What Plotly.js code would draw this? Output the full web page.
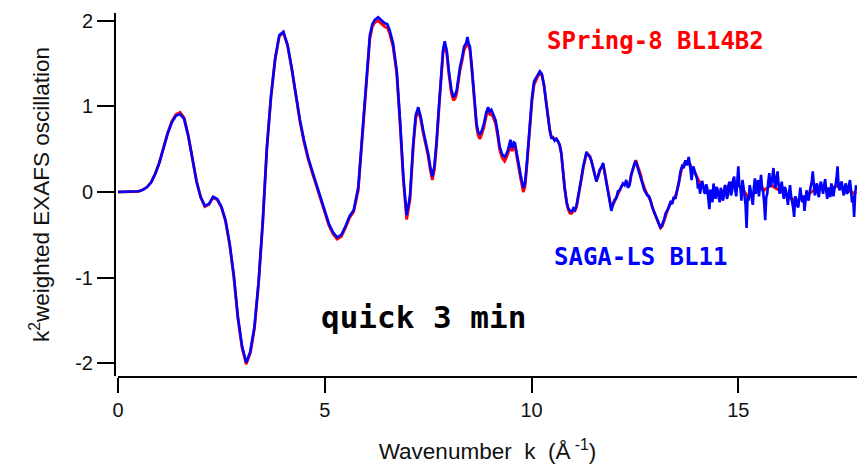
<!DOCTYPE html>
<html>
<head>
<meta charset="utf-8">
<script src="https://cdn.plot.ly/plotly-3.0.1.min.js"></script>
<style>html,body{margin:0;padding:0;background:#fff;}#chart{width:857px;height:464px;}</style>
</head>
<body>
<div id="chart"></div>
<script>
// Wavenumber k (1/Å)
const k = [
0.0,0.1,0.2,0.3,0.4,0.5,0.6,0.7,0.8,0.9,
1.0,1.1,1.2,1.3,1.4,1.5,1.6,1.7,1.8,1.9,
2.0,2.1,2.2,2.3,2.4,2.5,2.6,2.7,2.8,2.9,
3.0,3.1,3.2,3.3,3.4,3.5,3.6,3.7,3.8,3.9,
4.0,4.1,4.2,4.3,4.4,4.5,4.6,4.7,4.8,4.9,
5.0,5.1,5.2,5.3,5.4,5.5,5.6,5.7,
5.81,5.89,5.95,6.01,6.09,6.15,6.21,6.29,6.37,6.45,6.51,6.57,6.65,6.74,6.82,6.90,6.98,
7.06,7.14,7.20,7.26,7.32,7.38,7.44,7.50,7.55,7.60,7.65,7.70,7.76,7.81,7.86,7.90,7.95,
8.00,8.06,8.11,8.15,8.19,8.23,8.27,8.32,8.37,8.42,8.45,8.48,8.51,8.55,8.59,8.63,8.67,8.71,8.75,8.80,8.85,8.90,8.95,8.99,
9.03,9.08,9.13,9.18,9.23,9.29,9.35,9.39,9.43,9.49,9.52,9.54,9.57,9.60,9.64,9.68,9.74,9.80,9.84,9.88,9.92,9.96,
10.01,10.06,10.10,10.15,10.20,10.25,10.30,10.36,10.40,10.44,10.48,10.52,10.56,10.60,10.64,10.68,10.72,10.76,10.80,10.85,10.89,10.93,10.97,
11.01,11.05,11.09,11.13,11.17,11.21,11.25,11.29,11.33,11.37,11.41,11.45,11.49,11.53,11.57,11.61,11.65,11.69,11.73,11.77,11.81,11.85,11.89,11.93,11.97,
12.01,12.05,12.09,12.13,12.17,12.21,12.25,12.29,12.33,12.37,12.41,12.45,12.49,12.52,12.56,12.60,12.64,12.68,12.72,12.76,12.80,12.84,12.88,12.92,12.96,
13.00,13.04,13.08,13.12,13.16,13.20,13.24,13.28,13.32,13.36,13.40,13.44,13.48,13.52,13.56,13.60,13.64,13.68,13.72,13.76,13.80,13.84,13.87,13.91,13.95,
14.000,14.025,14.050,14.075,14.100,14.125,14.150,14.175,14.200,14.225,14.250,14.275,14.300,14.325,14.350,14.375,14.400,14.425,14.450,14.475,
14.500,14.525,14.550,14.575,14.600,14.625,14.650,14.675,14.700,14.725,14.750,14.775,14.800,14.825,14.850,14.875,14.900,14.925,14.950,14.975,
15.000,15.025,15.050,15.075,15.100,15.125,15.150,15.175,15.200,15.225,15.250,15.275,15.300,15.325,15.350,15.375,15.400,15.425,15.450,15.475,
15.500,15.525,15.550,15.575,15.600,15.625,15.650,15.675,15.700,15.725,15.750,15.775,15.800,15.825,15.850,15.875,15.900,15.925,15.950,15.975,
16.000,16.025,16.050,16.075,16.100,16.125,16.150,16.175,16.200,16.225,16.250,16.275,16.300,16.325,16.350,16.375,16.400,16.425,16.450,16.475,
16.500,16.525,16.550,16.575,16.600,16.625,16.650,16.675,16.700,16.725,16.750,16.775,16.800,16.825,16.850,16.875,16.900,16.925,16.950,16.975,
17.000,17.025,17.050,17.075,17.100,17.125,17.150,17.175,17.200,17.225,17.250,17.275,17.300,17.325,17.350,17.375,17.400,17.425,17.450,17.475,
17.500,17.525,17.550,17.575,17.600,17.625,17.650,17.675,17.700,17.725,17.750,17.775,17.800,17.825,17.850
];

// SPring-8 BL14B2 (red)
const spring8 = [
0.000,0.000,0.000,0.000,0.002,0.008,0.026,0.058,0.115,0.215,
0.345,0.515,0.690,0.825,0.905,0.930,0.865,0.660,0.390,0.125,
-0.065,-0.170,-0.145,-0.065,-0.090,-0.180,-0.340,-0.620,-0.990,-1.480,
-1.820,-2.010,-1.880,-1.590,-1.060,-0.360,0.510,1.110,1.550,1.820,
1.860,1.710,1.440,1.100,0.820,0.580,0.380,0.220,0.070,-0.080,
-0.230,-0.390,-0.490,-0.550,-0.520,-0.420,-0.300,-0.230,
0.020,0.530,0.910,1.310,1.790,1.930,1.980,2.000,1.960,1.930,1.920,1.850,1.700,1.380,0.800,0.140,-0.320,
-0.090,0.530,0.860,0.960,0.850,0.690,0.570,0.420,0.260,0.140,0.260,0.530,0.960,1.310,1.620,1.730,1.620,
1.380,1.160,1.070,1.090,1.150,1.290,1.420,1.530,1.660,1.710,1.770,1.700,1.660,1.460,1.230,0.980,0.760,0.660,0.620,0.680,0.760,0.880,0.950,0.910,
0.920,0.860,0.800,0.660,0.490,0.400,0.360,0.400,0.450,0.570,0.490,0.490,0.540,0.530,0.410,0.300,0.150,0.000,0.060,0.260,0.540,0.800,
1.060,1.250,1.300,1.350,1.380,1.360,1.250,1.030,0.850,0.730,0.640,0.640,0.610,0.620,0.590,0.550,0.450,0.230,0.050,-0.130,-0.210,-0.250,-0.250,
-0.220,-0.220,-0.170,-0.070,0.040,0.160,0.280,0.370,0.450,0.440,0.420,0.360,0.270,0.200,0.140,0.180,0.250,0.290,0.320,0.230,0.110,0.020,-0.090,-0.190,-0.150,
-0.100,-0.070,-0.010,0.020,0.060,0.090,0.100,0.110,0.080,0.100,0.200,0.280,0.330,0.370,0.320,0.260,0.200,0.120,0.050,0.010,-0.030,-0.060,-0.110,-0.180,-0.230,
-0.280,-0.330,-0.380,-0.420,-0.400,-0.340,-0.270,-0.220,-0.170,-0.130,-0.120,-0.070,-0.050,0.020,0.110,0.220,0.290,0.320,0.350,0.340,0.350,0.320,0.270,0.260,0.220,
0.170,0.140,0.120,0.090,0.080,0.070,0.050,0.040,0.020,0.030,0.000,-0.020,-0.040,-0.030,-0.050,-0.060,-0.030,-0.020,-0.040,-0.030,
-0.020,-0.040,-0.030,0.000,0.000,0.010,0.020,0.050,0.040,0.050,0.060,0.090,0.080,0.080,0.100,0.130,0.120,0.110,0.100,0.110,
0.080,0.070,0.060,0.040,0.030,0.020,0.000,-0.020,-0.040,-0.050,-0.060,-0.040,-0.050,-0.040,-0.030,-0.010,0.000,0.010,0.020,0.040,
0.030,0.040,0.050,0.050,0.040,0.020,0.030,0.040,0.050,0.060,0.070,0.070,0.080,0.070,0.060,0.060,0.050,0.040,0.030,0.030,
0.020,0.010,0.000,-0.010,-0.020,-0.030,-0.040,-0.050,-0.060,-0.060,-0.070,-0.080,-0.080,-0.090,-0.090,-0.100,-0.100,-0.100,-0.090,-0.080,
-0.080,-0.080,-0.080,-0.070,-0.060,-0.050,-0.040,-0.030,-0.020,-0.010,0.000,0.010,0.020,0.030,0.030,0.030,0.030,0.020,0.020,0.030,
0.030,0.040,0.040,0.050,0.050,0.040,0.040,0.030,0.030,0.040,0.040,0.050,0.050,0.060,0.060,0.070,0.070,0.060,0.060,0.050,
0.050,0.040,0.040,0.030,0.030,0.020,0.020,0.010,0.010,0.000,0.000,-0.010,-0.020,-0.010,0.000
];

// SAGA-LS BL11 (blue)
const sagaLS = [
0.000,0.000,0.000,0.000,0.002,0.008,0.025,0.055,0.110,0.210,
0.340,0.510,0.680,0.810,0.890,0.910,0.850,0.650,0.380,0.120,
-0.060,-0.160,-0.140,-0.055,-0.080,-0.170,-0.330,-0.600,-0.970,-1.460,
-1.800,-1.990,-1.860,-1.570,-1.050,-0.350,0.520,1.120,1.560,1.830,
1.870,1.720,1.450,1.120,0.840,0.600,0.400,0.240,0.090,-0.060,
-0.210,-0.370,-0.470,-0.530,-0.500,-0.400,-0.280,-0.210,
0.060,0.570,0.950,1.350,1.830,1.960,2.010,2.040,2.000,1.970,1.960,1.890,1.740,1.420,0.840,0.180,-0.270,
-0.050,0.570,0.900,0.990,0.880,0.720,0.600,0.450,0.300,0.180,0.300,0.570,1.000,1.350,1.660,1.760,1.650,
1.420,1.200,1.110,1.130,1.190,1.330,1.460,1.570,1.700,1.740,1.810,1.730,1.700,1.500,1.270,1.020,0.800,0.700,0.670,0.720,0.800,0.920,0.990,0.940,
0.960,0.900,0.840,0.700,0.530,0.440,0.410,0.440,0.490,0.610,0.520,0.530,0.580,0.570,0.450,0.340,0.190,0.050,0.100,0.300,0.580,0.840,
1.100,1.290,1.330,1.380,1.410,1.380,1.250,1.020,0.840,0.720,0.630,0.630,0.600,0.620,0.590,0.550,0.450,0.220,0.050,-0.120,-0.190,-0.220,-0.230,
-0.190,-0.210,-0.150,-0.050,0.060,0.180,0.300,0.380,0.470,0.430,0.410,0.360,0.260,0.200,0.120,0.190,0.260,0.290,0.340,0.220,0.100,0.020,-0.100,-0.220,-0.140,
-0.090,-0.070,0.010,0.020,0.070,0.100,0.080,0.140,0.050,0.080,0.200,0.280,0.330,0.360,0.300,0.240,0.180,0.100,0.030,0.000,-0.040,-0.050,-0.100,-0.180,-0.220,
-0.260,-0.320,-0.370,-0.420,-0.380,-0.330,-0.250,-0.220,-0.180,-0.120,-0.140,-0.060,-0.080,0.020,0.100,0.240,0.300,0.280,0.370,0.310,0.410,0.280,0.140,0.300,0.240,
0.160,0.040,0.100,-0.020,0.050,0.130,0.080,0.000,-0.020,0.090,0.040,-0.100,-0.200,0.030,-0.050,-0.120,0.100,0.020,-0.080,0.060,
0.020,-0.060,-0.120,0.050,0.000,-0.100,-0.050,0.080,0.060,-0.080,-0.030,0.100,0.120,-0.040,0.020,0.140,0.180,0.020,-0.050,0.120,
0.300,0.080,0.050,-0.100,0.140,0.060,-0.020,-0.150,-0.420,-0.050,-0.100,0.080,0.020,-0.080,-0.150,0.040,0.160,-0.020,0.050,0.140,
-0.050,0.080,0.200,0.040,0.000,-0.120,-0.330,-0.060,-0.020,0.120,0.220,0.060,0.100,0.180,0.280,0.100,0.050,0.180,0.240,0.080,
-0.020,0.060,0.120,0.000,-0.080,0.060,0.020,-0.060,-0.150,-0.020,0.080,-0.040,-0.100,-0.180,-0.290,-0.050,-0.080,-0.160,-0.180,-0.020,
0.050,-0.060,-0.120,-0.040,-0.220,-0.100,0.020,-0.060,-0.100,0.000,0.050,0.120,0.240,0.040,-0.040,0.060,0.100,-0.020,-0.060,0.080,
0.120,0.040,-0.020,0.080,0.150,0.020,-0.080,0.020,0.050,-0.060,0.100,0.030,-0.050,0.040,0.080,0.160,0.300,0.060,0.020,0.100,
0.120,0.020,-0.040,0.060,0.100,-0.020,0.000,0.080,0.140,0.020,-0.120,-0.040,-0.290,-0.020,0.080
];

const xTicks = [0, 5, 10, 15];
const yTicks = [-2, -1, 0, 1, 2];

const traces = [
  {x: k, y: spring8, type: 'scatter', mode: 'lines', name: 'SPring-8 BL14B2',
   line: {color: '#ff0000', width: 2.8}, hoverinfo: 'x+y'},
  {x: k, y: sagaLS, type: 'scatter', mode: 'lines', name: 'SAGA-LS BL11',
   line: {color: '#0000ff', width: 2.6}, hoverinfo: 'x+y'}
];

const tickFont = {family: 'Liberation Sans, Arial, sans-serif', size: 20, color: '#111'};
const titleFont = {family: 'Liberation Sans, Arial, sans-serif', size: 22.5, color: '#111'};

const layout = {
  width: 857, height: 464,
  margin: {l: 115, r: 0, t: 13, b: 88},
  paper_bgcolor: '#fff', plot_bgcolor: '#fff',
  showlegend: false,
  xaxis: {
    domain: [3/742, 1],
    range: [0, 17.87],
    tickvals: xTicks, ticktext: xTicks.map(String),
    showgrid: false, zeroline: false,
    showline: true, linecolor: '#000', linewidth: 2,
    ticks: 'outside', ticklen: 15, tickwidth: 2, tickcolor: '#000',
    tickfont: tickFont,
    title: {text: 'Wavenumber  k  (Å<sup> -1</sup>)', font: titleFont, standoff: 24}
  },
  yaxis: {
    anchor: 'free', position: 0,
    range: [-2.148, 2.09],
    tickvals: yTicks, ticktext: yTicks.map(String),
    showgrid: false, zeroline: false,
    showline: true, linecolor: '#000', linewidth: 2,
    ticks: 'outside', ticklen: 17, tickwidth: 2, tickcolor: '#000',
    tickfont: tickFont,
    title: {text: 'k<sup>2</sup>weighted EXAFS oscillation', font: titleFont, standoff: 18}
  },
  annotations: [
    {text: '<b>SPring-8 BL14B2</b>', x: 13.0, y: 1.76, xref: 'x', yref: 'y', showarrow: false,
     font: {family: 'DejaVu Sans Mono, monospace', size: 24, color: '#ff0000'}},
    {text: '<b>SAGA-LS BL11</b>', x: 12.64, y: -0.76, xref: 'x', yref: 'y', showarrow: false,
     font: {family: 'DejaVu Sans Mono, monospace', size: 24, color: '#0000ff'}},
    {text: '<b>quick 3 min</b>', x: 7.39, y: -1.46, xref: 'x', yref: 'y', showarrow: false,
     font: {family: 'DejaVu Sans Mono, monospace', size: 31, color: '#000'}}
  ]
};

Plotly.newPlot('chart', traces, layout, {staticPlot: true, displayModeBar: false});
</script>
</body>
</html>
